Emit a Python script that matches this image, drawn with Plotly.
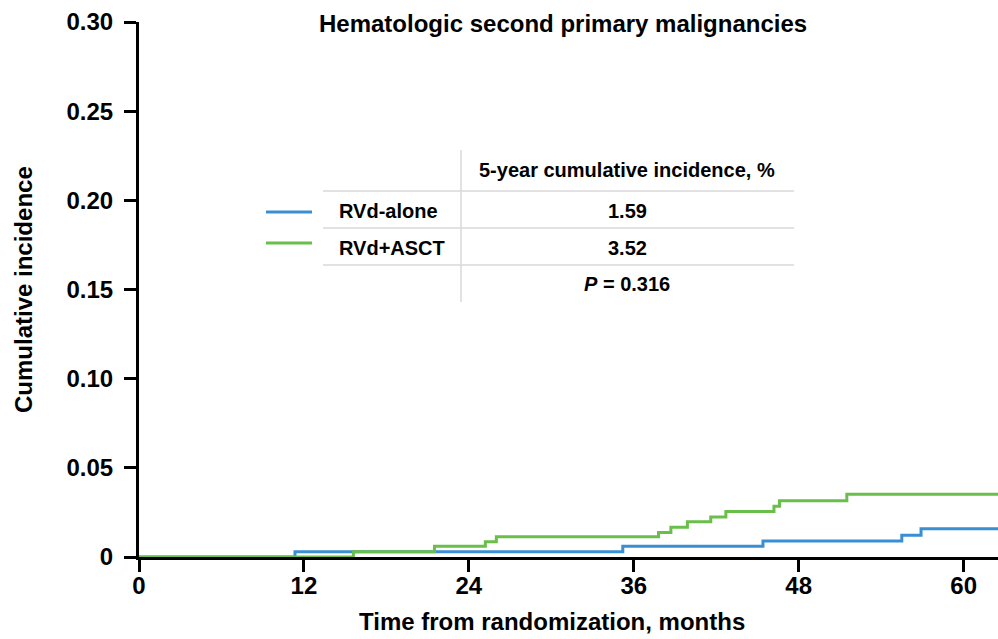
import plotly.graph_objects as go

# ---- data ----
blue_name = "RVd-alone"
green_name = "RVd+ASCT"
blue_time = [0, 11.35, 35.2, 45.4, 55.5, 56.9, 62.5]
blue_ci = [0, 0.0030, 0.0060, 0.0090, 0.0122, 0.0159, 0.0159]
green_time = [0, 15.6, 21.5, 25.2, 26.0, 37.8, 38.7, 39.9, 41.6, 42.7, 46.2, 46.6, 51.5, 62.5]
green_ci = [0, 0.0030, 0.0060, 0.0085, 0.0113, 0.0138, 0.0167, 0.0197, 0.0225, 0.0255,
            0.0285, 0.0316, 0.0352, 0.0352]
x_ticks = [0, 12, 24, 36, 48, 60]
y_ticks = [0, 0.05, 0.10, 0.15, 0.20, 0.25, 0.30]
y_ticklabels = ["0", "0.05", "0.10", "0.15", "0.20", "0.25", "0.30"]
table_header = "5-year cumulative incidence, %"
table_values = ["1.59", "3.52"]
p_text = "<i>P</i> = 0.316"
title = "Hematologic second primary malignancies"
x_title = "Time from randomization, months"
y_title = "Cumulative incidence"

BLUE = "#3a8fd4"
GREEN = "#6abf4b"
FONT = "Liberation Sans, Arial, sans-serif"

W, H = 998, 639
L, R, T, B = 139, 998, 22, 557


def px(x):
    return (x - L) / (R - L)


def py(y):
    return (B - y) / (B - T)


fig = go.Figure()
fig.add_trace(go.Scatter(x=blue_time, y=blue_ci, mode="lines", line_shape="hv",
                         line=dict(color=BLUE, width=3), name=blue_name, showlegend=False))
fig.add_trace(go.Scatter(x=green_time, y=green_ci, mode="lines", line_shape="hv",
                         line=dict(color=GREEN, width=3), name=green_name, showlegend=False))

shapes = []
grey = "#d9d9d9"
# table lines
shapes.append(dict(type="line", xref="paper", yref="paper", x0=px(461), x1=px(461),
                   y0=py(150), y1=py(302), line=dict(color=grey, width=1.5)))
for yy in [191, 228, 265]:
    shapes.append(dict(type="line", xref="paper", yref="paper", x0=px(323), x1=px(794),
                       y0=py(yy), y1=py(yy), line=dict(color=grey, width=1.5)))
# legend swatches
shapes.append(dict(type="line", xref="paper", yref="paper", x0=px(266), x1=px(312),
                   y0=py(212), y1=py(212), line=dict(color=BLUE, width=3)))
shapes.append(dict(type="line", xref="paper", yref="paper", x0=px(266), x1=px(312),
                   y0=py(243), y1=py(243), line=dict(color=GREEN, width=3)))

annotations = []
tf = dict(family=FONT, size=20, color="black", weight="bold")
annotations.append(dict(xref="paper", yref="paper", x=px(627), y=py(170), text=table_header,
                        showarrow=False, font=tf, xanchor="center", yanchor="middle"))
annotations.append(dict(xref="paper", yref="paper", x=px(337), y=py(211), text=blue_name,
                        showarrow=False, font=tf, xanchor="left", yanchor="middle"))
annotations.append(dict(xref="paper", yref="paper", x=px(337), y=py(248), text=green_name,
                        showarrow=False, font=tf, xanchor="left", yanchor="middle"))
annotations.append(dict(xref="paper", yref="paper", x=px(627), y=py(211), text=table_values[0],
                        showarrow=False, font=tf, xanchor="center", yanchor="middle"))
annotations.append(dict(xref="paper", yref="paper", x=px(627), y=py(248), text=table_values[1],
                        showarrow=False, font=tf, xanchor="center", yanchor="middle"))
annotations.append(dict(xref="paper", yref="paper", x=px(627), y=py(284), text=p_text,
                        showarrow=False, font=tf, xanchor="center", yanchor="middle"))
big = dict(family=FONT, size=24, color="black", weight="bold")
annotations.append(dict(xref="paper", yref="paper", x=px(563), y=py(23), text=title,
                        showarrow=False, font=big, xanchor="center", yanchor="middle"))
annotations.append(dict(xref="paper", yref="paper", x=px(552), y=py(621), text=x_title,
                        showarrow=False, font=big, xanchor="center", yanchor="middle"))
annotations.append(dict(xref="paper", yref="paper", x=px(23), y=py(290), text=y_title,
                        showarrow=False, font=big, xanchor="center", yanchor="middle",
                        textangle=-90))

axis_font = dict(family=FONT, size=24, color="black", weight="bold")
fig.update_layout(
    width=W, height=H,
    margin=dict(l=L, r=W - R, t=T, b=H - B),
    plot_bgcolor="white", paper_bgcolor="white",
    shapes=shapes, annotations=annotations,
    xaxis=dict(range=[0, 62.5], tickvals=x_ticks, ticktext=[str(v) for v in x_ticks],
               showgrid=False, zeroline=False, showline=True, linecolor="black", linewidth=3,
               ticks="outside", ticklen=12, tickwidth=2.5, tickcolor="black",
               tickfont=axis_font, layer="below traces", ticklabelstandoff=-7),
    yaxis=dict(range=[0, 0.30], tickvals=y_ticks, ticktext=y_ticklabels,
               showgrid=False, zeroline=False, showline=True, linecolor="black", linewidth=3,
               ticks="outside", ticklen=12, tickwidth=2.5, tickcolor="black",
               tickfont=axis_font, layer="below traces", ticklabelstandoff=6),
)

fig.write_html("out.html")
